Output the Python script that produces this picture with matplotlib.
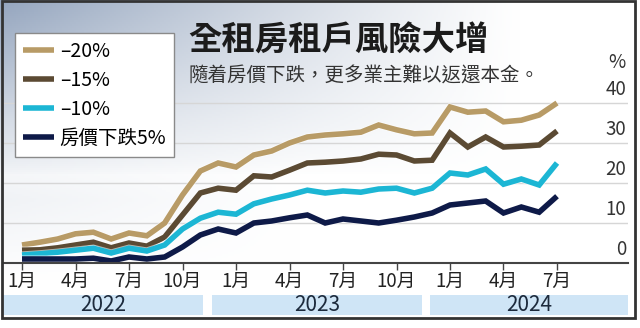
import numpy as np
import matplotlib
matplotlib.use("Agg")
from matplotlib import pyplot as plt
from matplotlib.patches import Rectangle
import matplotlib.patheffects as pe

plt.rcParams['font.family'] = ['Noto Sans CJK TC', 'DejaVu Sans']

W, H = 640, 328

# monthly values, Jan 2022 .. Jul 2024 (%)
months = list(range(31))
drop20 = [4.5, 5.2, 6.0, 7.3, 7.7, 6.0, 7.5, 6.8, 10.0, 17.0, 23.0, 25.0, 24.0, 27.0, 28.0, 30.0,
          31.5, 32.0, 32.3, 32.7, 34.5, 33.3, 32.3, 32.5, 39.0, 37.7, 38.0, 35.3, 35.7, 37.0, 40.0]
drop15 = [3.2, 3.3, 3.8, 4.5, 5.2, 3.8, 5.0, 4.2, 6.5, 12.0, 17.5, 18.7, 18.2, 21.8, 21.5, 23.2,
          25.0, 25.2, 25.5, 26.0, 27.2, 27.0, 25.5, 25.7, 32.5, 29.0, 31.5, 29.0, 29.2, 29.5, 33.0]
drop10 = [2.0, 2.3, 2.7, 3.2, 3.7, 2.5, 3.7, 3.0, 4.5, 8.5, 11.2, 12.7, 12.2, 14.8, 16.0, 17.0,
          18.2, 17.5, 18.0, 17.7, 18.5, 18.7, 17.5, 18.7, 22.5, 22.0, 23.5, 19.7, 21.0, 19.5, 25.0]
drop5 = [1.0, 1.0, 1.0, 1.0, 1.2, 0.5, 1.5, 1.0, 1.5, 4.0, 7.0, 8.5, 7.5, 10.0, 10.5, 11.3,
         12.0, 10.0, 11.0, 10.5, 10.0, 10.7, 11.5, 12.5, 14.5, 15.0, 15.5, 12.5, 14.0, 12.7, 16.7]

series_labels = ['–20%', '–15%', '–10%', '房價下跌5%']
series_colors = ['#b89b66', '#5b4a33', '#1cb6d4', '#0e1a48']

tick_pos = list(range(0, 31, 3))
tick_labels = ['1月', '4月', '7月', '10月'] * 2 + ['1月', '4月', '7月']
years = ['2022', '2023', '2024']
y_ticks = [0, 10, 20, 30, 40]


def fx(px):
    return px / W


def fy(py):
    return 1 - py / H


fig = plt.figure(figsize=(W / 100, H / 100), dpi=100)

# cloudy backdrop
bg = fig.add_axes([0, 0, 1, 1], zorder=-10)
gx, gy = np.meshgrid(np.linspace(0, W, 320), np.linspace(0, H, 164))
w = np.clip(1 - gx / 520, 0, 1) ** 1.1 * np.clip(1 - gy / 175, 0, 1) ** 0.8
w = w + 0.14 * np.clip(1 - gx / 300, 0, 1) * np.clip(1 - np.abs(gy - 200) / 80, 0, 1)
sky = np.array([148, 165, 190]) / 255
img = 1 - w[..., None] * (1 - sky)
bg.imshow(np.clip(img, 0, 1), extent=[0, W, H, 0], aspect='auto')
bg.set_xlim(0, W)
bg.set_ylim(H, 0)
bg.axis('off')

# main plot
ax = fig.add_axes([fx(3), fy(263), fx(628) - fx(3), fy(90) - fy(263)])
ax.patch.set_alpha(0)
px_per_month = (557 - 22) / 30
ax.set_xlim(-19 / px_per_month, (628 - 22) / px_per_month)
ax.set_ylim(0, (263 - 90) / 4)

for v in y_ticks[1:]:
    ax.axhline(v, color='#d6d6d6', lw=1, zorder=0)

for vals, lab, col in zip([drop20, drop15, drop10, drop5], series_labels, series_colors):
    ax.plot(months, vals, color=col, lw=4, label=lab, solid_joinstyle='miter',
            solid_capstyle='butt', clip_on=False,
            path_effects=[pe.Stroke(linewidth=5.2, foreground='white', alpha=0.6), pe.Normal()])

for v in y_ticks:
    ax.text((626 - 22) / px_per_month, v + 0.8, str(v), ha='right', va='bottom',
            fontsize=13.5, color='#333333')

for s in ['top', 'right', 'left']:
    ax.spines[s].set_visible(False)
ax.spines['bottom'].set_color('#444444')
ax.spines['bottom'].set_linewidth(1.5)
ax.set_yticks([])
ax.set_xticks(tick_pos)
ax.set_xticklabels(tick_labels)
ax.tick_params(axis='x', length=5, width=1, color='#444444', pad=1, labelsize=13.5,
               labelcolor='#222222')

leg = fig.legend(loc='upper left', bbox_to_anchor=(fx(15), fy(33)), borderaxespad=0,
                 fontsize=14, handlelength=1.6, handletextpad=0.3, labelspacing=0.42,
                 borderpad=0.4, fancybox=False, framealpha=1, edgecolor='#8a8a8a')
leg.get_frame().set_linewidth(1)
for h in leg.get_lines():
    h.set_linewidth(4)
    h.set_path_effects([])

# titles
fig.text(fx(188), fy(41), '全租房租戶風險大增', fontsize=24, fontweight='bold',
         color='#1b1b1b', va='center', ha='left')
fig.text(fx(189), fy(76), '隨着房價下跌，更多業主難以返還本金。', fontsize=14,
         color='#333333', va='center', ha='left')
fig.text(fx(617), fy(62), '%', fontsize=13.5, color='#333333', ha='center', va='center')

# year bands
bands = [(3, 203), (212, 422), (430, 628)]
for (x0, x1), yr in zip(bands, years):
    fig.patches.append(Rectangle((fx(x0), fy(315)), fx(x1) - fx(x0), fy(295) - fy(315),
                                 transform=fig.transFigure, facecolor='#cfe5f6',
                                 edgecolor='none'))
    fig.text(fx((x0 + x1) / 2), fy(305), yr, fontsize=15, color='#1c2a3c',
             ha='center', va='center')

# outer frame
fig.patches.append(Rectangle((fx(2), fy(318)), fx(635) - fx(2), fy(1) - fy(318),
                             transform=fig.transFigure, fill=False, edgecolor='#333333',
                             lw=2))

fig.savefig('out.png', dpi=100)
